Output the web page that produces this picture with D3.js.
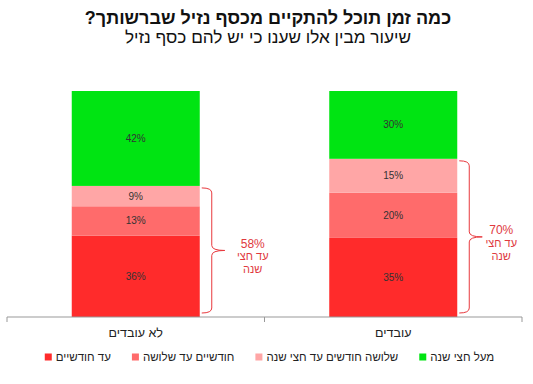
<!DOCTYPE html>
<html>
<head>
<meta charset="utf-8">
<script src="https://d3js.org/d3.v7.min.js"></script>
<style>
  body { margin: 0; background: #fff; }
  svg { font-family: "Liberation Sans", Arial, sans-serif; display: block; }
</style>
</head>
<body>
<script>
// categories (right to left as in the original chart)
var groups = ["עובדים", "לא עובדים"];
// stack order, bottom to top
var keys = ["עד חודשיים", "חודשיים עד שלושה", "שלושה חודשים עד חצי שנה", "מעל חצי שנה"];
var working    = [35, 20, 15, 30];
var notWorking = [36, 13, 9, 42];
var upToHalf   = [70, 58];
var colors = ["#ff2b2b", "#ff6b6b", "#ffa6a6", "#00e412"];
var titleText = "כמה זמן תוכל להתקיים מכסף נזיל שברשותך?";
var subText = "שיעור מבין אלו שענו כי יש להם כסף נזיל";

var W = 533, H = 384;
var svg = d3.select("body").append("svg").attr("width", W).attr("height", H);

var rows = groups.map(function(g, i) {
  var vals = i === 0 ? working : notWorking;
  var r = {group: g};
  keys.forEach(function(k, j) { r[k] = vals[j]; });
  return r;
});
var series = d3.stack().keys(keys)(rows);

// x reversed: first category on the right
var x = d3.scaleBand().domain(groups).range([522, 7]).paddingInner(0).paddingOuter(0);
var barW = 128;
var y = d3.scaleLinear().domain([0, 100]).range([317, 91]);

// bars
var layer = svg.selectAll("g.layer").data(series).enter().append("g")
  .attr("fill", function(d, i) { return colors[i]; });
layer.selectAll("rect").data(function(d) { return d; }).enter().append("rect")
  .attr("x", function(d) { return x(d.data.group) + x.bandwidth() / 2 - barW / 2; })
  .attr("width", barW)
  .attr("y", function(d) { return y(d[1]); })
  .attr("height", function(d) { return y(d[0]) - y(d[1]); });

// value labels
layer.selectAll("text").data(function(d) { return d; }).enter().append("text")
  .attr("x", function(d) { return x(d.data.group) + x.bandwidth() / 2; })
  .attr("y", function(d) { return (y(d[0]) + y(d[1])) / 2; })
  .attr("dy", "0.35em")
  .attr("text-anchor", "middle")
  .attr("font-size", 10)
  .attr("fill", "#333")
  .text(function(d) { return (d[1] - d[0]) + "%"; });

// axis
var axisG = svg.append("g").attr("transform", "translate(0,317)");
axisG.call(d3.axisBottom(x).tickSize(0).tickFormat(""));
axisG.select(".domain").attr("stroke", "#999").attr("d", "M7,0H522");
var edges = [7, x("עובדים"), 522];
axisG.selectAll("line.edge").data(edges).enter().append("line")
  .attr("class", "edge")
  .attr("x1", function(d) { return d; }).attr("x2", function(d) { return d; })
  .attr("y1", 0).attr("y2", 5).attr("stroke", "#999");
axisG.selectAll("text.cat").data(groups).enter().append("text")
  .attr("class", "cat")
  .attr("x", function(d) { return x(d) + x.bandwidth() / 2; })
  .attr("y", 20)
  .attr("text-anchor", "middle")
  .attr("font-size", 12.5)
  .attr("fill", "#222")
  .text(function(d) { return d; });

// braces + annotation
var annOffset = [44, 53];
groups.forEach(function(g, i) {
  var right = x(g) + x.bandwidth() / 2 + barW / 2;
  var x0 = right + 2, xs = right + 12, xt = right + 25;
  var yTop = y(upToHalf[i]) + 2, yBot = y(0) - 4, ym = (yTop + yBot) / 2, r = 5;
  var p = d3.path();
  p.moveTo(x0, yTop);
  p.quadraticCurveTo(xs, yTop, xs, yTop + r);
  p.lineTo(xs, ym - r);
  p.quadraticCurveTo(xs, ym, xt, ym);
  p.quadraticCurveTo(xs, ym, xs, ym + r);
  p.lineTo(xs, yBot - r);
  p.quadraticCurveTo(xs, yBot, x0, yBot);
  svg.append("path").attr("d", p.toString())
    .attr("fill", "none").attr("stroke", "#e8383d").attr("stroke-width", 1);

  var tx = right + annOffset[i];
  var lines = [upToHalf[i] + "%", "עד חצי", "שנה"];
  svg.selectAll(null).data(lines).enter().append("text")
    .attr("x", tx)
    .attr("y", function(d, j) { return ym - 7 + j * 13; })
    .attr("dy", "0.35em")
    .attr("text-anchor", "middle")
    .attr("font-size", function(d, j) { return j === 0 ? 12 : 11; })
    .attr("fill", "#e0393e")
    .text(function(d) { return d; });
});

// title
svg.append("text").attr("x", 268).attr("y", 24)
  .attr("text-anchor", "middle").attr("direction", "rtl")
  .attr("font-size", 18).attr("font-weight", "bold").attr("fill", "#111")
  .text(titleText);
svg.append("text").attr("x", 268).attr("y", 43)
  .attr("text-anchor", "middle").attr("direction", "rtl")
  .attr("font-size", 17.2).attr("fill", "#111")
  .text(subText);

// legend, left to right
var leg = svg.append("g").attr("transform", "translate(0,357)");
var items = leg.selectAll("g").data(keys).enter().append("g");
items.append("rect").attr("width", 7).attr("height", 7).attr("y", -3.5)
  .attr("fill", function(d, i) { return colors[i]; });
items.append("text").attr("x", 11).attr("dy", "0.35em")
  .attr("font-size", 11.5).attr("fill", "#222")
  .text(function(d) { return d; });
var pos = [], cx = 0;
items.each(function() {
  var w = 11 + d3.select(this).select("text").node().getComputedTextLength();
  pos.push(cx); cx += w + 21;
});
var start = 269.5 - (cx - 21) / 2;
items.attr("transform", function(d, i) { return "translate(" + (start + pos[i]) + ",0)"; });
</script>
</body>
</html>
